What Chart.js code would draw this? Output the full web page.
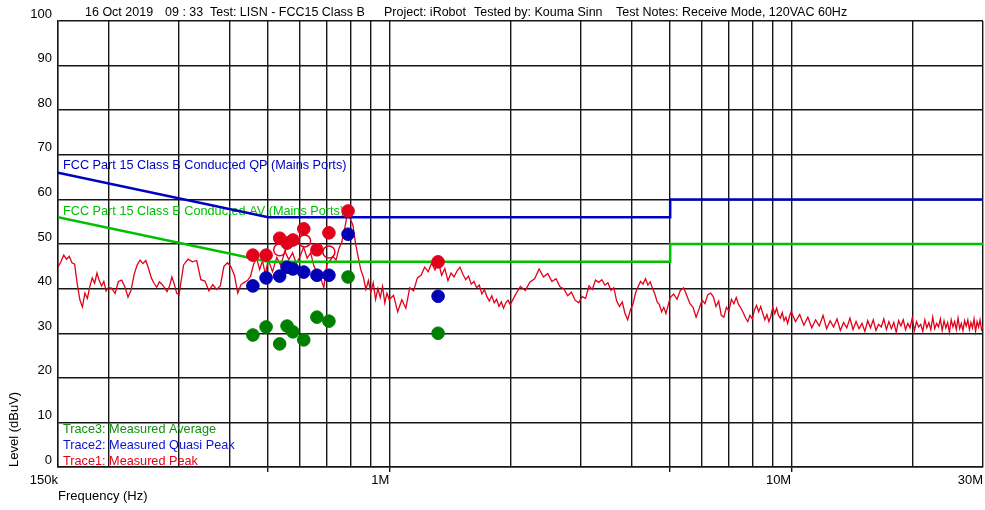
<!DOCTYPE html>
<html>
<head>
<meta charset="utf-8">
<script src="https://cdn.jsdelivr.net/npm/chart.js@4.4.0/dist/chart.umd.min.js"></script>
<style>
  html, body { margin: 0; padding: 0; background: #fff; overflow: hidden; }
  canvas { display: block; }
</style>
</head>
<body>
<canvas id="chart" width="985" height="510"></canvas>
<script>
// Peak trace (kHz / dBuV)
const traceFreqKHz = [
  150, 152.5, 155, 157.5, 160, 162.5, 165, 167.5, 170, 172.5, 175, 177.5, 180, 182.5, 185, 187.5, 190, 192.5, 195, 197.5, 200,
  204, 208, 212, 216, 220, 224, 228, 232, 236, 240, 244, 248, 252, 256, 260, 264, 268, 272, 276, 280, 284, 288, 292, 296, 300,
  308, 316, 324, 332, 340, 348, 356, 364, 372, 380, 388, 396, 404, 412, 420, 428, 436, 444, 452, 460, 468, 476, 484, 492, 500,
  512.5, 525, 537.5, 550, 562.5, 575, 587.5, 600, 612.5, 625, 637.5, 650, 662.5, 675, 687.5, 700, 712.5, 725, 737.5, 750,
  762.5, 775, 787.5, 800, 812.5, 825, 837.5, 850, 862.5, 875, 887.5, 900, 912.5, 925, 937.5, 950, 962.5, 975, 987.5, 1000,
  1025, 1050, 1075, 1100, 1125, 1150, 1175, 1200, 1225, 1250, 1275, 1300, 1325, 1350, 1375, 1400, 1425, 1450, 1475, 1500,
  1525, 1550, 1575, 1600, 1625, 1650, 1675, 1700, 1725, 1750, 1775, 1800, 1825, 1850, 1875, 1900, 1925, 1950, 1975, 2000,
  2060, 2120, 2180, 2240, 2300, 2360, 2420, 2480, 2540, 2600, 2660, 2720, 2780, 2840, 2900, 2960, 3020, 3080, 3140, 3200,
  3260, 3320, 3380, 3440, 3500, 3560, 3620, 3680, 3740, 3800, 3860, 3920, 3980, 4040, 4100, 4160, 4220, 4280, 4340, 4400,
  4460, 4520, 4580, 4640, 4700, 4760, 4820, 4880, 4940, 5000,
  5100, 5200, 5300, 5400, 5500, 5600, 5700, 5800, 5900, 6000, 6100, 6200, 6300, 6400, 6500, 6600, 6700, 6800, 6900, 7000,
  7100, 7200, 7300, 7400, 7500, 7600, 7700, 7800, 7900, 8000, 8100, 8200, 8300, 8400, 8500, 8600, 8700, 8800, 8900, 9000,
  9100, 9200, 9300, 9400, 9500, 9600, 9700, 9800, 9900, 10000,
  10250, 10500, 10750, 11000, 11250, 11500, 11750, 12000, 12250, 12500, 12750, 13000, 13250, 13500, 13750, 14000,
  14250, 14500, 14750, 15000, 15250, 15500, 15750, 16000, 16250, 16500, 16750, 17000, 17250, 17500, 17750, 18000,
  18250, 18500, 18750, 19000, 19250, 19500, 19750, 20000, 20250, 20500, 20750, 21000, 21250, 21500, 21750, 22000,
  22250, 22500, 22750, 23000, 23250, 23500, 23750, 24000, 24250, 24500, 24750, 25000, 25250, 25500, 25750, 26000,
  26250, 26500, 26750, 27000, 27250, 27500, 27750, 28000, 28250, 28500, 28750, 29000, 29250, 29500, 29750, 30000,
];
const traceLevel = [
  44.8, 46.0, 47.5, 46.6, 47.2, 45.8, 45.5, 41.0, 37.5, 35.9, 39.0, 37.8, 40.5, 42.4, 41.2, 43.5, 41.8, 40.6, 41.6, 39.5, 40.2,
  40.1, 38.9, 41.6, 41.9, 40.4, 38.1, 39.7, 43.2, 45.3, 46.4, 45.6, 46.3, 44.5, 42.4, 41.2, 40.3, 41.5, 41.0, 40.2, 39.3, 40.5, 42.6, 41.0, 39.0, 38.6,
  45.3, 46.6, 46.0, 46.3, 42.0, 41.7, 39.5, 40.9, 39.8, 40.6, 45.0, 45.8, 44.9, 43.0, 39.0, 40.9, 41.4, 41.8, 42.8, 45.5, 46.8, 44.3, 46.2, 43.2, 46.5,
  43.8, 47.0, 45.2, 48.4, 46.5, 48.0, 45.6, 47.2, 49.3, 46.8, 48.0, 45.0, 43.6, 42.4, 40.2, 45.5, 46.3, 47.2, 46.4, 49.0,
  50.5, 53.5, 56.8, 55.6, 54.2, 50.0, 47.0, 44.2, 42.6, 39.8, 41.8, 39.2, 41.3, 37.6, 40.0, 38.0, 40.5, 36.8, 39.0, 37.5,
  38.5, 34.8, 37.5, 35.6, 40.2, 39.5, 42.4, 43.0, 44.8, 43.8, 45.7, 44.2, 46.0, 43.0, 44.5, 41.8, 43.5, 42.6, 44.0, 44.8,
  43.2, 42.0, 42.8, 41.0, 41.6, 40.2, 40.8, 38.8, 39.8, 38.2, 37.2, 38.4, 36.8, 37.6, 36.0, 37.0, 35.6, 36.8, 37.4, 36.4,
  38.6, 40.5, 39.6, 41.5, 42.2, 44.4, 42.6, 43.4, 41.6, 42.2, 40.4, 39.9, 38.4, 39.2, 37.4, 36.8, 38.2, 37.8, 40.6, 39.8,
  41.9, 41.4, 42.0, 40.8, 41.3, 39.6, 40.2, 37.2, 36.0, 37.0, 34.4, 33.0, 35.2, 36.5, 39.0, 40.4, 41.6, 41.0, 42.2, 40.8,
  41.5, 40.0, 38.8, 37.0, 36.4, 34.8, 35.8, 34.4, 36.2, 38.0,
  38.8, 37.6, 39.6, 40.2, 38.4, 36.6, 35.8, 33.6, 35.4, 37.4, 36.6, 38.6, 39.0, 38.2, 36.0, 37.2, 34.0, 33.6, 35.8, 35.0,
  37.6, 36.6, 38.0, 36.4, 35.6, 34.6, 33.4, 32.6, 34.0, 33.2, 35.2, 36.2, 34.8, 36.0, 34.4, 33.0, 34.2, 32.6, 33.8, 35.8,
  34.4, 35.6, 34.0, 33.4, 34.6, 32.8, 33.6, 32.2, 33.8, 34.8,
  32.6, 34.2, 31.8, 33.6, 31.2, 33.0, 31.6, 34.0, 31.0, 32.8, 31.4, 33.2, 30.6, 32.4, 31.2, 33.4,
  30.8, 32.6, 31.0, 32.2, 30.4, 32.8, 31.2, 33.0, 30.6, 32.0, 31.4, 33.2, 30.8, 32.6, 31.0, 32.4,
  30.2, 32.8, 31.6, 33.0, 30.8, 32.2, 31.2, 33.4, 30.6, 32.6, 31.4, 32.0, 30.4, 33.0, 31.2, 32.4,
  30.8, 33.6, 31.0, 32.2, 31.4, 33.2, 30.6, 32.8, 31.2, 32.4, 30.2, 33.0, 31.4, 32.6, 30.8, 33.4,
  31.0, 32.2, 30.6, 32.8, 31.6, 33.0, 30.8, 32.4, 31.2, 33.2, 30.4, 32.6, 31.4, 33.0, 30.8, 31.6,
];

// Final measurement points (kHz)
const markerFreqKHz = [458, 494, 534, 557, 576, 613, 661, 708, 790, 1323];
const peakMarkers = [47.5, 47.5, 51.3, 50.2, 50.9, 53.4, 48.7, 52.5, 57.4, 46.0];
const quasiPeakMarkers = [40.6, 42.4, 42.8, 44.8, 44.4, 43.7, 43.0, 43.0, 52.2, 38.3];
const averageMarkers = [29.6, 31.4, 27.6, 31.6, 30.3, 28.5, 33.6, 32.7, 42.6, 30.0];
const openPeakFreqKHz = [534, 616, 708];
const openPeakLevel = [48.7, 50.7, 48.2];

// FCC Part 15 Class B conducted limits
const limitFreqKHz = [150, 500, 5000, 5000, 30000];
const qpLimit = [66, 56, 56, 60, 60];
const avLimit = [56, 46, 46, 50, 50];

// Axes
const gridFreqKHz = [150, 200, 300, 400, 500, 600, 700, 800, 900, 1000, 2000, 3000, 4000, 5000,
  6000, 7000, 8000, 9000, 10000, 20000, 30000];
const freqTickLabels = { 150: "150k", 1000: "1M", 10000: "10M", 30000: "30M" };
const markedTicksKHz = [500, 1000, 5000, 10000];

const headerParts = [
  "16 Oct 2019", "09 : 33", "Test: LISN - FCC15 Class B", "Project: iRobot",
  "Tested by: Kouma Sinn", "Test Notes: Receive Mode, 120VAC 60Hz",
];
const limitNames = [
  "FCC Part 15 Class B Conducted QP (Mains Ports)",
  "FCC Part 15 Class B Conducted AV (Mains Ports)",
];
const traceNames = ["Trace3: Measured Average", "Trace2: Measured Quasi Peak", "Trace1: Measured Peak"];

const RED = "#e2001a";
const BLUE = "#0000c0";
const LIMIT_GREEN = "#00c000";
const DOT_GREEN = "#008000";
const FONT = "'Liberation Sans', Arial, sans-serif";
const GRID = "#161616";

const toPoints = (freqs, levels) => freqs.map((f, i) => ({ x: f * 1000, y: levels[i] }));

const textPlugin = {
  id: "textPlugin",
  beforeDatasetsDraw(chart) {
    const { ctx, chartArea } = chart;
    ctx.save();
    ctx.font = "12.7px " + FONT;
    ctx.textBaseline = "middle";
    ctx.textAlign = "left";
    ctx.fillStyle = BLUE;
    ctx.fillText(limitNames[0], chartArea.left + 5, 165);
    ctx.fillStyle = LIMIT_GREEN;
    ctx.fillText(limitNames[1], chartArea.left + 5, 211);
    const legendColors = ["#109010", "#1010d0", RED];
    traceNames.forEach((name, i) => {
      ctx.fillStyle = legendColors[i];
      ctx.fillText(name, chartArea.left + 5, 429 + i * 16);
    });
    ctx.restore();
  },
  afterDraw(chart) {
    const ctx = chart.ctx;
    const starts = [85, 165, 210, 384, 474, 616];
    ctx.save();
    ctx.font = "12.5px " + FONT;
    ctx.textBaseline = "middle";
    ctx.textAlign = "left";
    ctx.fillStyle = "#000";
    headerParts.forEach((part, i) => ctx.fillText(part, starts[i], 13));
    ctx.restore();
  },
};

new Chart(document.getElementById("chart"), {
  type: "line",
  data: {
    datasets: [
      {
        label: "Peak markers",
        data: toPoints(markerFreqKHz, peakMarkers),
        showLine: false,
        pointRadius: 6.3,
        pointBackgroundColor: RED,
        pointBorderColor: RED,
        order: 0,
      },
      {
        label: "Peak markers (open)",
        data: toPoints(openPeakFreqKHz, openPeakLevel),
        showLine: false,
        pointRadius: 6,
        pointBorderWidth: 1.5,
        pointBackgroundColor: "rgba(0,0,0,0)",
        pointBorderColor: RED,
        order: 0,
      },
      {
        label: "QP markers",
        data: toPoints(markerFreqKHz, quasiPeakMarkers),
        showLine: false,
        pointRadius: 6.3,
        pointBackgroundColor: "#0000b4",
        pointBorderColor: "#0000b4",
        order: 0,
      },
      {
        label: "AV markers",
        data: toPoints(markerFreqKHz, averageMarkers),
        showLine: false,
        pointRadius: 6.3,
        pointBackgroundColor: DOT_GREEN,
        pointBorderColor: DOT_GREEN,
        order: 0,
      },
      {
        label: "QP limit",
        data: toPoints(limitFreqKHz, qpLimit),
        borderColor: BLUE,
        borderWidth: 2.5,
        pointRadius: 0,
        tension: 0,
        order: 1,
      },
      {
        label: "AV limit",
        data: toPoints(limitFreqKHz, avLimit),
        borderColor: LIMIT_GREEN,
        borderWidth: 2.5,
        pointRadius: 0,
        tension: 0,
        order: 1,
      },
      {
        label: "Trace1",
        data: toPoints(traceFreqKHz, traceLevel),
        borderColor: RED,
        borderWidth: 1.3,
        pointRadius: 0,
        tension: 0,
        order: 2,
      },
    ],
  },
  options: {
    responsive: false,
    animation: false,
    layout: { autoPadding: false, padding: { top: 21, right: 2, left: 0, bottom: 0 } },
    plugins: {
      legend: { display: false },
      tooltip: { enabled: false },
    },
    scales: {
      x: {
        type: "logarithmic",
        min: 150000,
        max: 30000000,
        afterBuildTicks(scale) {
          scale.ticks = gridFreqKHz.map((f) => ({ value: f * 1000 }));
        },
        afterFit(scale) {
          scale.height = 43;
          scale.paddingLeft = 0;
          scale.paddingRight = 0;
        },
        ticks: {
          autoSkip: false,
          maxRotation: 0,
          align: "end",
          padding: 1,
          color: "#000",
          font: { family: FONT, size: 13 },
          callback: (value) => freqTickLabels[Math.round(value / 1000)] || "",
        },
        grid: {
          color: GRID,
          lineWidth: 1.4,
          tickLength: 5,
          tickColor: (ctx) =>
            ctx.tick && markedTicksKHz.includes(Math.round(ctx.tick.value / 1000)) ? GRID : "rgba(0,0,0,0)",
        },
        border: { color: GRID, width: 1.4 },
        title: {
          display: true,
          text: "Frequency (Hz)",
          align: "start",
          color: "#000",
          font: { family: FONT, size: 13 },
          padding: { top: 0, bottom: 6 },
        },
      },
      y: {
        min: 0,
        max: 100,
        afterFit(scale) {
          scale.width = 58;
        },
        ticks: {
          stepSize: 10,
          padding: 6,
          labelOffset: -7,
          color: "#000",
          font: { family: FONT, size: 13 },
        },
        grid: { color: GRID, lineWidth: 1.4, drawTicks: false },
        border: { color: GRID, width: 1.4 },
        title: {
          display: true,
          text: "Level (dBuV)",
          align: "start",
          color: "#000",
          font: { family: FONT, size: 13 },
          padding: { top: 7, bottom: 0 },
        },
      },
    },
  },
  plugins: [textPlugin],
});
</script>
</body>
</html>
